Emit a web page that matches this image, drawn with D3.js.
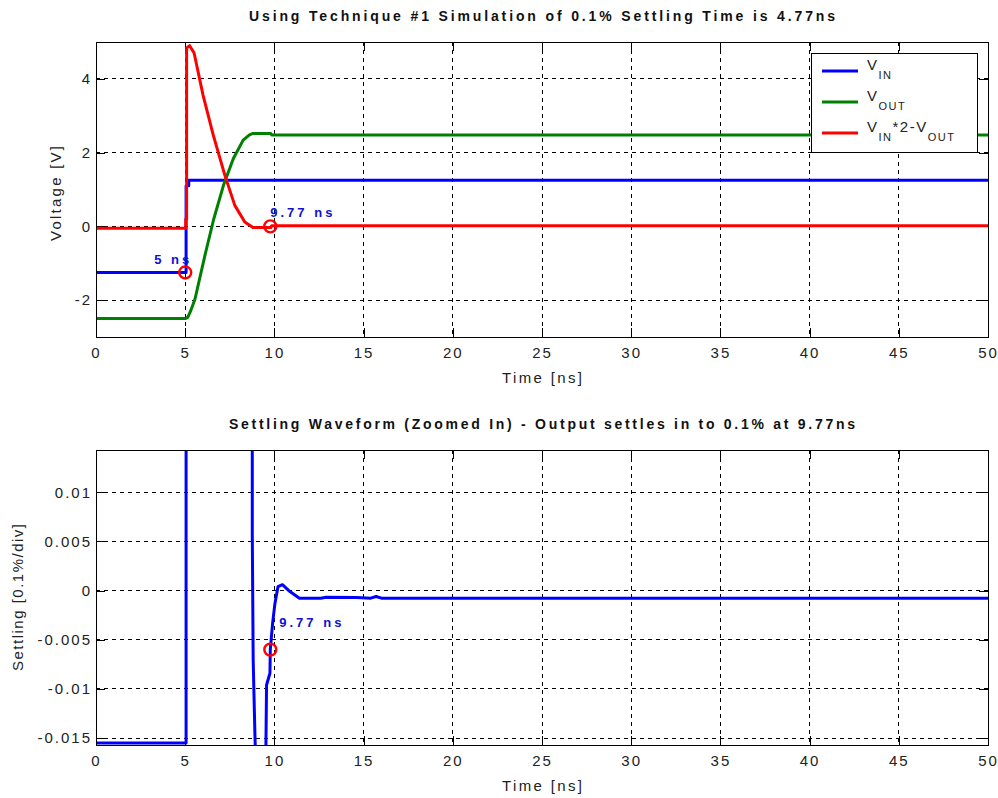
<!DOCTYPE html>
<html>
<head>
<meta charset="utf-8">
<script src="https://cdn.jsdelivr.net/npm/d3@7"></script>
<style>
    body { margin: 0; background: #fff; }
    svg { display: block; }
    text { font-family: "Liberation Sans", Arial, sans-serif; }
</style>
</head>
<body>
<svg id="chart" width="998" height="798"></svg>
<script>

// ---- data ----

var xTicks = [0, 5, 10, 15, 20, 25, 30, 35, 40, 45, 50];
var topYTicks = [-2, 0, 2, 4];
var topYTickLabels = ["-2", "0", "2", "4"];
var bottomYTicks = [-0.015, -0.01, -0.005, 0, 0.005, 0.01];
var bottomYTickLabels = ["-0.015", "-0.01", "-0.005", "0", "0.005", "0.01"];

// V_IN
var vinTime = [0, 5.05, 5.05, 5.2, 5.2, 50];
var vinValue = [-1.25, -1.25, 1.1, 1.1, 1.25, 1.25];

// V_OUT
var voutTime = [0, 5.0, 5.15, 5.3, 5.55, 6.1, 6.6, 7.15, 7.7, 8.25, 8.6, 8.8, 9.8, 9.85, 50];
var voutValue = [-2.5, -2.5, -2.46, -2.3, -1.97, -0.8, 0.2, 1.12, 1.84, 2.34, 2.48, 2.52, 2.52, 2.48, 2.48];

// V_IN*2 - V_OUT
var errTime = [0, 5.03, 5.03, 5.08, 5.08, 5.25, 5.5, 6.0, 6.57, 7.22, 7.78, 8.34, 8.8, 9.8, 9.85, 50];
var errValue = [-0.05, -0.05, 0.2, 0.2, 4.84, 4.9, 4.7, 3.56, 2.48, 1.39, 0.57, 0.12, -0.03, -0.03, 0.02, 0.02];

// settling waveform (zoomed in)
var settleTime = [0, 5.05, 5.05, 8.76, 8.76, 8.81, 8.91, 9.0, 9.5, 9.56, 9.75, 9.77, 9.9, 10.03, 10.2, 10.45, 10.87, 11.4, 12.6, 12.9, 14.6, 15.4, 15.7, 16.0, 50];
var settleValue = [-0.0155, -0.0155, 0.05, 0.05, 0.0058, -0.007, -0.0148, -0.02, -0.02, -0.0096, -0.0084, -0.006, -0.0033, -0.0013, 0.0004, 0.0006, -0.0001, -0.00077, -0.00077, -0.00067, -0.0007, -0.00077, -0.0006, -0.00077, -0.00077];

// marker annotations
var topMarks = [
    { t: 5, v: -1.25, label: "5 ns", anchor: "end", dx: 7, dy: -8 },
    { t: 9.77, v: 0, label: "9.77 ns", anchor: "start", dx: 0, dy: -9 }
];
var bottomMarks = [
    { t: 9.77, v: -0.006, label: "9.77 ns", anchor: "start", dx: 9, dy: -23 }
];

// ---- layout ----

var svg = d3.select("#chart");
svg.append("rect").attr("width", 998).attr("height", 798).attr("fill", "#fff");

var left = 96, right = 988;
var tickLen = 9;

var x = d3.scaleLinear().domain([0, 50]).range([left, right]);

function pairs(ts, vs) {
    return ts.map(function (t, i) { return [t, vs[i]]; });
}

function drawPanel(opts) {
    var y = d3.scaleLinear().domain(opts.yDomain).range([opts.bottom, opts.top]);
    var h = opts.bottom - opts.top;
    var g = svg.append("g");

    // grid
    var grid = g.append("g").attr("class", "grid");
    grid.selectAll(".vg").data(xTicks.slice(1, -1)).enter().append("line")
        .attr("x1", function (d) { return x(d); })
        .attr("x2", function (d) { return x(d); })
        .attr("y1", opts.top).attr("y2", opts.bottom);
    grid.selectAll(".hg").data(opts.yTicks).enter().append("line")
        .attr("x1", left).attr("x2", right)
        .attr("y1", function (d) { return y(d); })
        .attr("y2", function (d) { return y(d); });
    grid.selectAll("line")
        .attr("stroke", "#000").attr("stroke-width", 1)
        .attr("stroke-dasharray", "4,4").attr("shape-rendering", "crispEdges");

    // axes (ticks inside)
    var xb = g.append("g").attr("transform", "translate(0," + opts.bottom + ")")
        .call(d3.axisBottom(x).tickValues(xTicks).tickSize(-tickLen).tickPadding(10));
    var xt = g.append("g").attr("transform", "translate(0," + opts.top + ")")
        .call(d3.axisTop(x).tickValues(xTicks).tickSize(-tickLen).tickFormat(""));
    var yl = g.append("g").attr("transform", "translate(" + left + ",0)")
        .call(d3.axisLeft(y).tickValues(opts.yTicks).tickSize(-tickLen).tickPadding(6)
            .tickFormat(function (d, i) { return opts.yTickLabels[i]; }));
    var yr = g.append("g").attr("transform", "translate(" + right + ",0)")
        .call(d3.axisRight(y).tickValues(opts.yTicks).tickSize(-tickLen).tickFormat(""));
    [xb, xt, yl, yr].forEach(function (a) {
        a.select(".domain").remove();
        a.selectAll("line").attr("stroke", "#000").attr("shape-rendering", "crispEdges");
        a.selectAll("text")
            .attr("fill", "#222")
            .style("font-size", "15px")
            .style("letter-spacing", "2px")
            .style("font-family", "'Liberation Sans', Arial, sans-serif");
    });
    yl.selectAll("text").attr("dx", "2px");

    // clip for lines
    var clipId = "clip" + opts.top;
    svg.append("clipPath").attr("id", clipId).append("rect")
        .attr("x", left).attr("y", opts.top).attr("width", right - left).attr("height", h);

    var line = d3.line()
        .x(function (d) { return x(d[0]); })
        .y(function (d) { return y(d[1]); });

    var lines = g.append("g").attr("clip-path", "url(#" + clipId + ")");
    opts.series.forEach(function (s) {
        lines.append("path")
            .datum(pairs(s.t, s.v))
            .attr("fill", "none")
            .attr("stroke", s.color)
            .attr("stroke-width", 3)
            .attr("stroke-linejoin", "round")
            .attr("d", line);
    });

    // box
    g.append("rect")
        .attr("x", left + 0.5).attr("y", opts.top + 0.5)
        .attr("width", right - left).attr("height", h)
        .attr("fill", "none").attr("stroke", "#000").attr("stroke-width", 1);

    // markers + labels
    opts.marks.forEach(function (m) {
        g.append("circle")
            .attr("cx", x(m.t)).attr("cy", y(m.v)).attr("r", 6)
            .attr("fill", "none").attr("stroke", "#ff0000").attr("stroke-width", 2.4);
        g.append("text")
            .attr("x", x(m.t) + m.dx).attr("y", y(m.v) + m.dy)
            .attr("text-anchor", m.anchor)
            .attr("fill", "#1010d0")
            .style("font-size", "13px").style("font-weight", "bold")
            .style("letter-spacing", "3px")
            .text(m.label);
    });

    // titles
    g.append("text")
        .attr("x", (left + right) / 2).attr("y", opts.top - 21)
        .attr("text-anchor", "middle")
        .attr("textLength", opts.titleLen).attr("lengthAdjust", "spacing")
        .style("font-size", "14px").style("font-weight", "bold").attr("fill", "#111")
        .text(opts.title);
    g.append("text")
        .attr("x", (left + right) / 2).attr("y", opts.bottom + 46)
        .attr("text-anchor", "middle")
        .attr("textLength", 80).attr("lengthAdjust", "spacing")
        .style("font-size", "15px").attr("fill", "#222")
        .text("Time [ns]");
    g.append("text")
        .attr("transform", "translate(" + opts.yLabelX + "," + ((opts.top + opts.bottom) / 2 + opts.yLabelShift) + ") rotate(-90)")
        .attr("text-anchor", "middle")
        .attr("textLength", opts.yLabelLen).attr("lengthAdjust", "spacing")
        .style("font-size", "15px").attr("fill", "#222")
        .text(opts.yLabel);

    return { g: g, y: y };
}

// top panel
var topPanel = drawPanel({
    top: 42, bottom: 337,
    yDomain: [-3, 5],
    yTicks: topYTicks,
    yTickLabels: topYTickLabels,
    series: [
        { t: vinTime, v: vinValue, color: "#0000ff" },
        { t: voutTime, v: voutValue, color: "#008000" },
        { t: errTime, v: errValue, color: "#ff0000" }
    ],
    marks: topMarks,
    title: "Using Technique #1 Simulation of 0.1% Settling Time is 4.77ns",
    titleLen: 586,
    yLabel: "Voltage [V]",
    yLabelX: 61, yLabelShift: 4, yLabelLen: 95
});

// bottom panel
drawPanel({
    top: 450, bottom: 745,
    yDomain: [-0.0157, 0.0143],
    yTicks: bottomYTicks,
    yTickLabels: bottomYTickLabels,
    series: [
        { t: settleTime, v: settleValue, color: "#0000ff" }
    ],
    marks: bottomMarks,
    title: "Settling Waveform (Zoomed In) - Output settles in to 0.1% at 9.77ns",
    titleLen: 626,
    yLabel: "Settling [0.1%/div]",
    yLabelX: 23, yLabelShift: 0, yLabelLen: 147
});

// legend (top panel)
var legendItems = [
    { color: "#0000ff", parts: [["V", 0], ["IN", 1]] },
    { color: "#008000", parts: [["V", 0], ["OUT", 1]] },
    { color: "#ff0000", parts: [["V", 0], ["IN", 1], ["*2-V", 0], ["OUT", 1]] }
];
var legend = topPanel.g.append("g").attr("transform", "translate(811,53)");
legend.append("rect")
    .attr("x", 0.5).attr("y", 0.5).attr("width", 166).attr("height", 99)
    .attr("fill", "#fff").attr("stroke", "#000").attr("stroke-width", 1);
legendItems.forEach(function (item, i) {
    var ly = 18 + i * 31;
    legend.append("line")
        .attr("x1", 11).attr("x2", 47).attr("y1", ly).attr("y2", ly)
        .attr("stroke", item.color).attr("stroke-width", 3);
    var t = legend.append("text").attr("x", 56).attr("y", ly - 1)
        .attr("fill", "#222").style("letter-spacing", "1.5px");
    var level = 0;
    item.parts.forEach(function (p) {
        var shift = (p[1] - level) * 9;
        level = p[1];
        t.append("tspan")
            .attr("dy", shift)
            .style("font-size", p[1] ? "11px" : "15px")
            .text(p[0]);
    });
});

</script>
</body>
</html>
